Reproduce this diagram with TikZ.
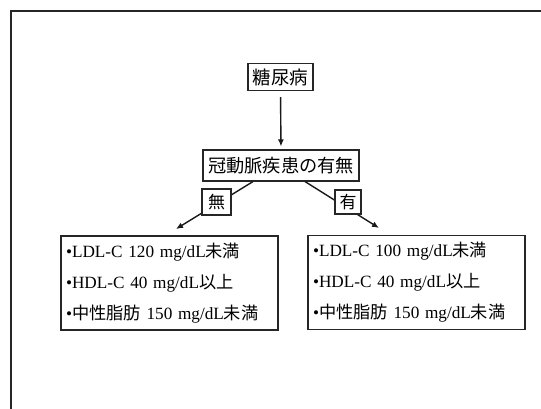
\documentclass[tikz,border=0pt]{standalone}
\usepackage{fontspec}
\setmainfont{Liberation Serif}
\newfontfamily\cjk{Noto Sans CJK JP}
\usetikzlibrary{arrows.meta}
\begin{document}
\begin{tikzpicture}[x=1pt,y=-1pt,
  box/.style={draw=black!85,line width=1.1pt,fill=white,inner sep=0pt,font=\cjk\fontsize{17}{20}\selectfont},
  listbox/.style={draw=black!85,line width=1.1pt,fill=white,inner xsep=5pt,inner ysep=0pt,
    text width=207pt,minimum height=94pt,align=left,font=\fontsize{17.2}{31}\selectfont},
  conn/.style={line width=1.4pt,black!90,-{Latex[length=7pt,width=6pt]}}]
\useasboundingbox (0,0) rectangle (541,409);
\fill[white] (0,0) rectangle (541,409);
% outer frame (extends past the right and bottom edges)
\draw[line width=2pt,black!85] (11,430) -- (11,11) -- (560,11);
% nodes
\node[box,minimum width=65pt,minimum height=27pt,font=\cjk\fontsize{18.5}{20}\selectfont] (d) at (280.5,77) {糖尿病};
\node[box,minimum width=156pt,minimum height=31pt,font=\cjk\fontsize{18.2}{20}\selectfont] (k) at (281,165.5) {冠動脈疾患の有無};
\node[listbox] (L) at (169.5,283) {•LDL-C 120 mg/dL{\cjk 未満}\\•HDL-C 40 mg/dL{\cjk 以上}\\•{\cjk 中性脂肪} 150 mg/dL{\cjk 未満}};
\node[listbox] (R) at (416.5,282.5) {•LDL-C 100 mg/dL{\cjk 未満}\\•HDL-C 40 mg/dL{\cjk 以上}\\•{\cjk 中性脂肪} 150 mg/dL{\cjk 未満}};
\coordinate (lt) at (176,229);
\coordinate (rt) at (379,228);
% connectors
\draw[conn,shorten <=6pt,shorten >=3pt] (d.south) -- (k.north);
\draw[conn] ([xshift=-28pt]k.south) -- (lt);
\draw[conn] ([xshift=24pt]k.south) -- (rt);
% branch labels
\node[box,minimum width=29pt,minimum height=26pt] (n) at (216.5,202) {無};
\node[box,minimum width=26pt,minimum height=24pt] (y) at (348,202) {有};
\end{tikzpicture}
\end{document}
